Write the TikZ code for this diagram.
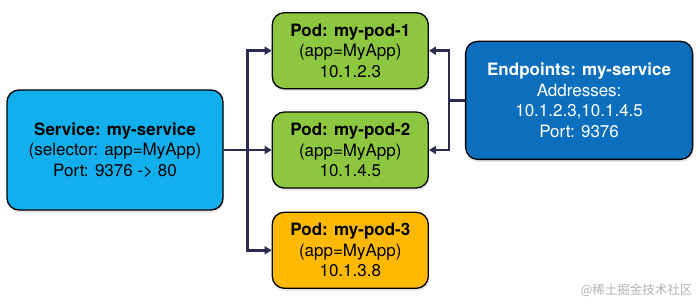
\documentclass[tikz,border=0pt]{standalone}
\usepackage{fontspec}
\setmainfont{TeX Gyre Heros}
\newfontfamily\cjk{Noto Sans CJK SC}
\usepackage{xcolor}
\usepackage{tikz}
\usetikzlibrary{positioning,arrows.meta,calc,shadows}
\definecolor{svcblue}{RGB}{17,175,236}
\definecolor{podgreen}{RGB}{141,198,63}
\definecolor{podorange}{RGB}{255,185,0}
\definecolor{epblue}{RGB}{12,111,190}
\definecolor{wire}{RGB}{44,44,82}

\begin{document}
\begin{tikzpicture}[
  box/.style={draw=black, line width=1.3pt, rounded corners=12pt, align=center,
              font=\fontsize{17}{20.5}\selectfont, inner sep=2pt,
              drop shadow={opacity=0.2, shadow xshift=1pt, shadow yshift=-2.5pt}},
  svc/.style={box, fill=svcblue, minimum width=216pt, minimum height=120pt},
  pod/.style={box, fill=podgreen, minimum width=156pt, minimum height=76pt},
  ep/.style={box, fill=epblue, text=white, minimum width=227pt, minimum height=118pt},
  wire/.style={draw=wire, line width=2.6pt},
  arr/.style={wire, -{Triangle[length=7pt, width=8pt]}}]

\useasboundingbox (0,0) rectangle (700pt,-305pt);

\node[svc] (svc) at (115pt,-150pt) {\textbf{Service: my-service}\\(selector: app=MyApp)\\Port: 9376 -> 80};

\node[pod, right=48pt of svc] (pod2) {\textbf{Pod: my-pod-2}\\(app=MyApp)\\10.1.4.5};
\node[pod, above=22pt of pod2] (pod1) {\textbf{Pod: my-pod-1}\\(app=MyApp)\\10.1.2.3};
\node[pod, below=23pt of pod2, fill=podorange] (pod3) {\textbf{Pod: my-pod-3}\\(app=MyApp)\\10.1.3.8};

\coordinate (mid) at ($(pod1.east)!.5!(pod2.east)$);
\node[ep, right=36pt of mid] (ep) {\textbf{Endpoints: my-service}\\Addresses:\\10.1.2.3,10.1.4.5\\Port: 9376};

\coordinate (split) at ($(svc.east)+(24pt,0)$);
\coordinate (join) at ($(ep.west)-(16pt,0)$);

\draw[wire] (svc.east) -- (split);
\draw[arr] (split) |- (pod1.west);
\draw[arr] (split) -- (pod2.west);
\draw[arr] (split) |- (pod3.west);

\draw[wire] (ep.west) -- (join);
\draw[arr] (join) |- (pod1.east);
\draw[arr] (join) |- (pod2.east);

\node[text=black!30, font=\cjk\fontsize{12.5}{14}\selectfont, anchor=east] (wm) at (696pt,-290pt) {@稀土掘金技术社区};
\end{tikzpicture}
\end{document}
